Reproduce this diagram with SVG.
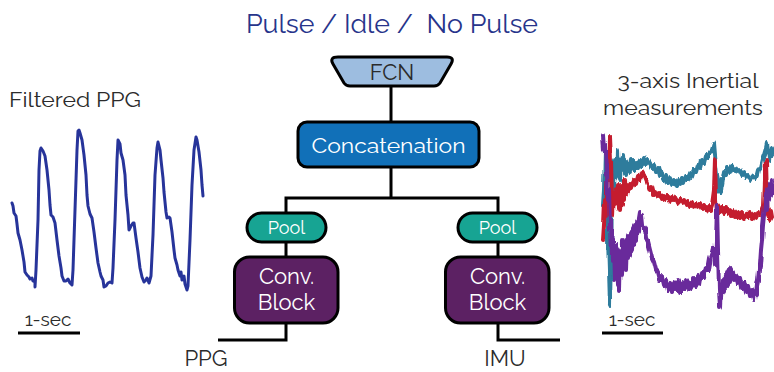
<svg xmlns="http://www.w3.org/2000/svg" width="774" height="372" viewBox="0 0 774 372">
  <style>
    .lbl { font-family: Raleway, Lato, "Open Sans", "Liberation Sans", sans-serif; }
    .dark { fill: #2b2b2b; }
    .white { fill: #ffffff; }
    .wire { fill: none; stroke: #000; stroke-width: 3; stroke-linejoin: miter; }
    .box { stroke: #000; stroke-width: 3; }
    .trace { fill: none; stroke-linejoin: round; stroke-linecap: round; }
  </style>
  <defs>
    <!-- fine sensor jitter for the inertial traces -->
    <filter id="jitter" x="590" y="120" width="184" height="200" filterUnits="userSpaceOnUse">
      <feTurbulence type="fractalNoise" baseFrequency="0.35 0.04" numOctaves="1" seed="7" result="n"/>
      <feDisplacementMap in="SourceGraphic" in2="n" scale="5" xChannelSelector="B" yChannelSelector="R"/>
    </filter>
  </defs>

  <rect width="774" height="372" fill="#ffffff"/>

  <!-- output classes -->
  <text id="title" class="lbl" x="392" y="33" text-anchor="middle" font-size="26" fill="#27348b" xml:space="preserve" textLength="292" lengthAdjust="spacingAndGlyphs">Pulse / Idle /  No Pulse</text>

  <!-- connectors -->
  <g id="connectors" class="wire">
    <path d="M391,86 V122"/>
    <path d="M391,167 V198 M286,198 H498 M286,196.5 V213 M498,196.5 V213"/>
    <path d="M286,242 V257 M498,242 V257"/>
    <path d="M286,323 V340 H218"/>
    <path d="M498,323 V340 H560"/>
  </g>

  <!-- FCN head -->
  <g id="fcn">
    <path class="box" fill="#9dbde0" d="M338,57 H447 Q455,57 451,64 L440,83 Q438,86 434,86 H350 Q346,86 344,83 L333,64 Q329,57 338,57 Z"/>
    <text class="lbl dark" x="392" y="80" text-anchor="middle" font-size="22">FCN</text>
  </g>

  <!-- concatenation -->
  <g id="concat">
    <rect class="box" x="298" y="122" width="181" height="45" rx="9" fill="#1170b8"/>
    <text class="lbl white" x="388.5" y="153" text-anchor="middle" font-size="21" textLength="154" lengthAdjust="spacingAndGlyphs">Concatenation</text>
  </g>

  <!-- PPG branch -->
  <g id="pool-ppg">
    <rect class="box" x="247" y="213" width="79" height="29" rx="14.5" fill="#17a493"/>
    <text class="lbl white" x="286.5" y="234" text-anchor="middle" font-size="18">Pool</text>
  </g>
  <g id="conv-ppg">
    <rect class="box" x="234.5" y="257" width="103.5" height="66" rx="15" fill="#5c2163"/>
    <text class="lbl white" x="286.5" y="284" text-anchor="middle" font-size="22">Conv.</text>
    <text class="lbl white" x="286.5" y="310" text-anchor="middle" font-size="22">Block</text>
  </g>

  <!-- IMU branch -->
  <g id="pool-imu">
    <rect class="box" x="458" y="213" width="79" height="29" rx="14.5" fill="#17a493"/>
    <text class="lbl white" x="497.5" y="234" text-anchor="middle" font-size="18">Pool</text>
  </g>
  <g id="conv-imu">
    <rect class="box" x="445.5" y="257" width="103.5" height="66" rx="15" fill="#5c2163"/>
    <text class="lbl white" x="497.5" y="284" text-anchor="middle" font-size="22">Conv.</text>
    <text class="lbl white" x="497.5" y="310" text-anchor="middle" font-size="22">Block</text>
  </g>

  <!-- inputs -->
  <text id="in-ppg" class="lbl dark" x="206" y="366" text-anchor="middle" font-size="22">PPG</text>
  <text id="in-imu" class="lbl dark" x="505" y="366" text-anchor="middle" font-size="22">IMU</text>

  <!-- filtered PPG panel -->
  <g id="ppg-panel">
    <text class="lbl dark" x="9" y="107" font-size="20" textLength="132" lengthAdjust="spacingAndGlyphs">Filtered PPG</text>
    <polyline class="trace" stroke="#27349a" stroke-width="3" points="12,203 13,206 14,213 16,216 17,224 18,233 20,240 22,250 24,262 25,272 27,275 29,277 30,279 32,278 33,281 35,282 35,287 36,270 38,220 39,170 40,151 41,148 43,151 45,156 47,170 49,190 50,205 51,215 53,217 55,223 57,240 59,256 61,268 62,276 64,281 66,281 68,279 70,283 72,285 73,270 75,210 77,150 78,131 79,130 80,133 82,140 84,155 86,175 87,195 88,206 90,214 92,218 94,232 96,248 98,263 100,272 101,276 103,280 104,287 106,286 108,283 110,282 112,283 113,268 115,220 117,160 118,140 120,144 121,153 123,160 125,175 126,195 128,215 129,230 131,226 133,223 134,223 136,238 138,252 140,268 142,277 144,282 146,280 147,278 149,283 151,276 153,235 155,175 157,148 158,142 160,150 161,160 163,178 164,192 166,212 167,218 169,217 170,218 172,232 174,250 175,258 177,265 178,270 180,276 181,272 182,280 184,276 185,284 187,290 188,286 190,240 192,185 194,150 196,137 197,140 199,152 201,170 202,185 203,196"/>
    <line x1="18" y1="333" x2="80" y2="333" stroke="#000" stroke-width="3"/>
    <text class="lbl dark" x="48" y="326" text-anchor="middle" font-size="19">1-sec</text>
  </g>

  <!-- inertial panel -->
  <g id="imu-panel">
    <text class="lbl dark" x="688" y="88" text-anchor="middle" font-size="20" textLength="141" lengthAdjust="spacingAndGlyphs">3-axis Inertial</text>
    <text class="lbl dark" x="683" y="115" text-anchor="middle" font-size="20" textLength="160" lengthAdjust="spacingAndGlyphs">measurements</text>

    <g filter="url(#jitter)">
    <polyline class="trace" stroke="#2d7b9c" stroke-width="4" points="603,205 604,190 605,150 606,175 607,200 608,240 609,270 610,305 611,250 612,200 613,175 614,190 615,160 616,178 617,150 618,172 619,162 620,180 621,158 622,170 623,155 624,168 625,160 626,175 627,162 628,170 629,165 630,172 632,160 634,170 636,162 638,168 640,160 642,166 644,158 646,165 648,160 650,163 652,168 654,164 656,172 658,168 660,176 662,172 664,180 666,175 668,183 670,178 672,185 674,180 676,186 678,180 680,184 682,178 684,183 686,176 688,180 690,173 692,177 694,170 696,172 698,165 700,168 702,160 704,163 706,155 708,158 710,152 712,150 714,143 715,155 716,165 717,175 718,180 719,190 720,192 721,180 722,185 724,172 726,175 728,168 730,172 732,166 734,170 736,168 738,172 740,170 742,175 744,172 746,178 748,175 750,180 752,178 754,176 756,178 758,170 760,168 762,160 764,155 766,148 767,143 768,150 769,158 770,160 771,150 772,148 773,155"/>

    <polyline class="trace" stroke="#c41e2f" stroke-width="4" points="603,240 604,225 605,200 606,215 607,190 608,160 609,180 610,137 611,160 612,200 613,215 614,195 615,205 616,190 617,200 618,185 619,210 620,195 621,185 622,205 623,190 624,200 625,180 626,195 627,185 628,190 630,183 632,188 634,180 636,185 638,176 640,180 642,172 644,175 646,180 648,185 650,190 652,187 654,195 656,192 658,197 660,194 662,199 664,195 666,200 668,196 670,201 672,197 674,200 676,198 678,203 680,199 682,203 684,200 686,205 688,201 690,206 692,202 694,207 696,203 698,208 700,204 702,209 704,205 706,210 708,206 710,211 712,205 714,190 715,160 716,200 717,212 718,205 720,213 722,207 724,214 726,208 728,215 730,210 732,216 734,211 736,217 738,212 740,218 742,213 744,219 746,214 748,218 750,213 752,219 754,214 756,218 758,213 760,215 762,210 764,205 765,180 766,160 767,200 768,215 769,210 770,220 771,212 772,218"/>

    <polyline class="trace" stroke="#69299b" stroke-width="4" points="603,135 604,150 605,145 606,175 607,165 608,200 609,190 610,230 611,220 612,260 613,240 614,280 615,255 616,270 617,245 618,285 619,260 620,290 621,250 622,275 623,240 624,265 625,245 626,270 627,240 628,258 629,235 630,255 631,232 632,250 633,228 634,245 635,225 636,240 637,222 638,232 639,218 640,212 641,225 642,215 643,225 644,230 645,228 646,238 648,242 650,250 652,258 654,262 656,270 658,272 660,280 662,276 664,285 666,280 668,290 670,283 672,292 674,282 676,290 678,280 680,292 682,282 684,288 686,280 688,290 690,282 692,288 694,278 696,286 698,276 700,284 702,272 704,278 706,268 708,270 710,258 712,252 713,248 714,256 715,265 716,240 717,205 718,250 719,290 720,307 721,285 722,298 723,280 724,292 725,275 726,288 727,272 728,285 729,270 730,282 731,268 732,278 733,272 734,280 736,276 738,284 740,278 742,288 744,282 746,292 748,286 750,296 752,290 754,300 755,292 756,295 757,285 758,280 759,270 760,265 761,250 762,240 763,225 764,215 765,205 766,195 767,210 768,190 769,200 770,185 771,195 772,180"/>
    </g>

    <line x1="602" y1="333" x2="663" y2="333" stroke="#000" stroke-width="3"/>
    <text class="lbl dark" x="632" y="326" text-anchor="middle" font-size="19">1-sec</text>
  </g>
</svg>
